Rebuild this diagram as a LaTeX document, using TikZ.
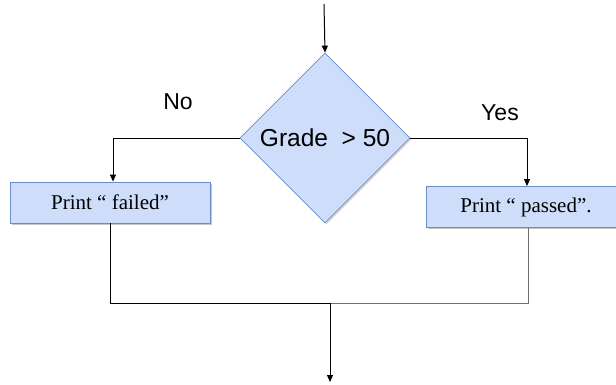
\documentclass[tikz,border=0pt]{standalone}
\usepackage{fontspec}
\setmainfont{Liberation Serif}
\newfontfamily\arialfont{Liberation Sans}
\usetikzlibrary{shapes.geometric,arrows.meta,shadows}
\definecolor{boxfill}{HTML}{CEDDF9}
\definecolor{boxedge}{HTML}{6A8CCB}
\definecolor{grayline}{HTML}{707070}
\tikzset{
  flowbox/.style={rectangle, draw=boxedge, fill=boxfill, line width=0.9pt,
    minimum width=200pt, minimum height=41pt, inner sep=0pt,
    drop shadow={shadow xshift=1.5pt, shadow yshift=-1.5pt, fill=black!45},
    font=\fontsize{21}{25}\selectfont},
  decision/.style={diamond, draw=boxedge, fill=boxfill, line width=0.7pt,
    minimum width=170pt, minimum height=170pt, inner sep=0pt, aspect=1,
    drop shadow={shadow xshift=1.5pt, shadow yshift=-1.5pt, fill=black!30},
    font=\arialfont\fontsize{24.5}{28}\selectfont},
  lbl/.style={font=\arialfont\fontsize{23}{27}\selectfont, inner sep=0pt},
  flow/.style={line width=1pt, draw=black},
  arr/.style={flow, -{Triangle[length=7pt, width=6pt]}},
}
\begin{document}
\begin{tikzpicture}[x=1pt, y=-1pt]
\clip (0,0) rectangle (616,384);
\fill[white] (0,0) rectangle (616,384);
\coordinate (start) at (324,4);
\node[decision] (dec) at (325,138) {Grade\ \ > 50};
\node[flowbox] (fail) at (110,202.5) {Print “ failed”};
\node[flowbox] (pass) at (526,207) {Print “ passed”.};
\node[lbl] (no) at (178,102) {No};
\node[lbl] (yes) at (500,113) {Yes};
\coordinate (join) at (330,303);
\coordinate (end) at (330,382);
\draw[arr] (start) -- (dec.north);
\draw[arr] (dec.west) -| ([xshift=3pt]fail.north);
\draw[arr] (dec.east) -| ([xshift=1pt]pass.north);
\draw[flow] (fail.south) |- (join);
\draw[flow, draw=grayline] ([xshift=2pt]pass.south) |- (join);
\draw[arr] (join) -- (end);
\end{tikzpicture}
\end{document}
